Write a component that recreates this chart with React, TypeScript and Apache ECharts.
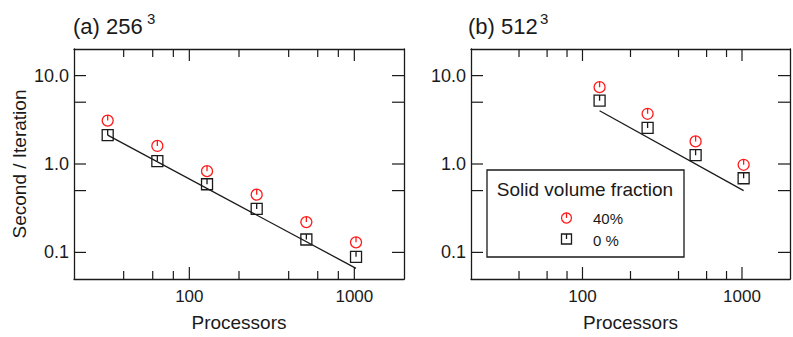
import React, { useEffect, useRef } from "react";
import * as echarts from "echarts";

// ---- data ----
const procA = [32, 64, 128, 256, 512, 1024];
const a40 = [3.1, 1.6, 0.83, 0.45, 0.22, 0.13];
const a0 = [2.12, 1.08, 0.59, 0.31, 0.14, 0.089];
const idealAx = [32, 1024];
const idealAy = [2.12, 0.066];

const procB = [128, 256, 512, 1024];
const b40 = [7.4, 3.7, 1.8, 0.98];
const b0 = [5.2, 2.56, 1.26, 0.69];
const idealBx = [128, 1024];
const idealBy = [4.0, 0.5];

const xRange = [20, 2000];
const yRange = [0.05, 20];
const xMajor = [100, 1000];
const xMinor = [40, 60, 80, 200, 400, 600, 800];
const yTicks = [0.1, 0.5, 1, 5, 10];

const seriesNames = ["40%", "0 %"];

const FONT = "Liberation Sans, Arial, Helvetica, sans-serif";
const INK = "#1a1a1a";
const RED = "#ff1a1a";

const circlePath = "path://M0,5 A5,5 0 1,1 10,5 A5,5 0 1,1 0,5 Z M5,0 L5,5";
const squarePath = "path://M0,0 L10,0 L10,10 L0,10 Z M5,0 L5,5";

const zip = (xs: number[], ys: number[]) => xs.map((x, i) => [x, ys[i]]);
const isPow10 = (v: number) => Math.abs(Math.log10(v) - Math.round(Math.log10(v))) < 1e-6;

const lineStyle = { color: INK, width: 1.3 };
const MAJOR_LEN = 12;
const MINOR_LEN = 8;

function logX(gridIndex: number, position: string, withLabels: boolean) {
  return {
    type: "log",
    logBase: 10,
    min: xRange[0],
    max: xRange[1],
    gridIndex,
    position,
    splitLine: { show: false },
    minorTick: { show: false },
    axisTick: { show: false },
    axisLine: { show: true, onZero: false, lineStyle },
    axisLabel: withLabels
      ? {
          show: true,
          formatter: (v: number) => (isPow10(v) && v > xRange[0] && v < xRange[1] ? String(Math.round(v)) : ""),
          fontFamily: FONT,
          fontSize: 17,
          color: INK,
          margin: 9,
        }
      : { show: false },
    name: withLabels ? "Processors" : "",
    nameLocation: "middle",
    nameGap: 34,
    nameTextStyle: { fontFamily: FONT, fontSize: 19, color: INK },
  };
}

function logY(gridIndex: number, position: string, withLabels: boolean, withName: boolean) {
  return {
    type: "log",
    logBase: 10,
    min: yRange[0],
    max: yRange[1],
    gridIndex,
    position,
    splitLine: { show: false },
    minorTick: { show: false },
    axisTick: { show: false },
    axisLine: { show: true, onZero: false, lineStyle },
    axisLabel: withLabels
      ? {
          show: true,
          formatter: (v: number) => (isPow10(v) && v > yRange[0] && v < yRange[1] ? v.toFixed(1) : ""),
          fontFamily: FONT,
          fontSize: 18,
          color: INK,
          margin: 5,
        }
      : { show: false },
    name: withName ? "Second / Iteration" : "",
    nameLocation: "middle",
    nameRotate: 90,
    nameGap: 45,
    nameTextStyle: { fontFamily: FONT, fontSize: 19, color: INK },
  };
}

function scatter(name: string, symbol: string, color: string, x: number, y: number, data: number[][]) {
  return {
    type: "scatter",
    name,
    xAxisIndex: x,
    yAxisIndex: y,
    data,
    symbol,
    symbolSize: 11,
    z: 3,
    itemStyle: { color: "transparent", borderColor: color, borderWidth: 1.3, opacity: 1 },
  };
}

function ideal(x: number, y: number, data: number[][]) {
  return {
    type: "line",
    xAxisIndex: x,
    yAxisIndex: y,
    data,
    symbol: "none",
    z: 2,
    lineStyle: { color: INK, width: 1.3 },
  };
}

const legendGraphics = [
  { type: "text", left: 73, top: 15, style: { text: "(a) 256", font: `22px ${FONT}`, fill: INK } },
  { type: "text", left: 147, top: 11, style: { text: "3", font: `15px ${FONT}`, fill: INK } },
  { type: "text", left: 468, top: 15, style: { text: "(b) 512", font: `22px ${FONT}`, fill: INK } },
  { type: "text", left: 540, top: 11, style: { text: "3", font: `15px ${FONT}`, fill: INK } },
  {
    type: "rect",
    shape: { x: 487, y: 170, width: 197, height: 87 },
    style: { fill: "#ffffff", stroke: INK, lineWidth: 1.3 },
    z: 10,
  },
  {
    type: "text",
    x: 585,
    y: 189,
    z: 11,
    style: { text: "Solid volume fraction", font: `19px ${FONT}`, fill: INK, align: "center", verticalAlign: "middle" },
  },
  { type: "circle", shape: { cx: 566.5, cy: 218, r: 5 }, style: { fill: "none", stroke: RED, lineWidth: 1.3 }, z: 11 },
  { type: "line", shape: { x1: 566.5, y1: 213, x2: 566.5, y2: 218 }, style: { stroke: RED, lineWidth: 1.3 }, z: 11 },
  { type: "rect", shape: { x: 561.5, y: 234, width: 10, height: 10 }, style: { fill: "none", stroke: INK, lineWidth: 1.3 }, z: 11 },
  { type: "line", shape: { x1: 566.5, y1: 234, x2: 566.5, y2: 239 }, style: { stroke: INK, lineWidth: 1.3 }, z: 11 },
  { type: "text", x: 593, y: 218, z: 11, style: { text: seriesNames[0], font: `15px ${FONT}`, fill: INK, verticalAlign: "middle" } },
  { type: "text", x: 593, y: 240, z: 11, style: { text: seriesNames[1], font: `15px ${FONT}`, fill: INK, verticalAlign: "middle" } },
];

export default function App() {
  const ref = useRef<HTMLDivElement>(null);
  useEffect(() => {
    if (!ref.current) return;
    const chart = echarts.init(ref.current, null, { renderer: "svg" });
    chart.setOption({
      animation: false,
      backgroundColor: "#ffffff",
      grid: [
        { left: 74, top: 49, width: 330, height: 232 },
        { left: 471, top: 49, width: 330, height: 232 },
      ],
      xAxis: [logX(0, "bottom", true), logX(0, "top", false), logX(1, "bottom", true), logX(1, "top", false)],
      yAxis: [logY(0, "left", true, true), logY(0, "right", false, false), logY(1, "left", true, false), logY(1, "right", false, false)],
      series: [
        ideal(0, 0, zip(idealAx, idealAy)),
        scatter(seriesNames[0], circlePath, RED, 0, 0, zip(procA, a40)),
        scatter(seriesNames[1], squarePath, INK, 0, 0, zip(procA, a0)),
        ideal(2, 2, zip(idealBx, idealBy)),
        scatter(seriesNames[0], circlePath, RED, 2, 2, zip(procB, b40)),
        scatter(seriesNames[1], squarePath, INK, 2, 2, zip(procB, b0)),
      ],
    });

    // inside frame ticks, positioned through the log axes' own scales
    const tickLines: any[] = [];
    const st = { stroke: INK, lineWidth: 1.2 };
    [0, 2].forEach((ai) => {
      const px = (x: number, y: number) =>
        chart.convertToPixel({ xAxisIndex: ai, yAxisIndex: ai } as any, [x, y]) as number[];
      const xTick = (v: number, len: number) => {
        const b = px(v, yRange[0]);
        const t = px(v, yRange[1]);
        if (!b || !t) return;
        tickLines.push({ type: "line", silent: true, z: 5, shape: { x1: b[0], y1: b[1], x2: b[0], y2: b[1] - len }, style: st });
        tickLines.push({ type: "line", silent: true, z: 5, shape: { x1: t[0], y1: t[1], x2: t[0], y2: t[1] + len }, style: st });
      };
      xMajor.forEach((v) => xTick(v, MAJOR_LEN));
      xMinor.forEach((v) => xTick(v, MINOR_LEN));
      yTicks.forEach((v) => {
        const l = px(xRange[0], v);
        const r = px(xRange[1], v);
        if (!l || !r) return;
        tickLines.push({ type: "line", silent: true, z: 5, shape: { x1: l[0], y1: l[1], x2: l[0] + MAJOR_LEN, y2: l[1] }, style: st });
        tickLines.push({ type: "line", silent: true, z: 5, shape: { x1: r[0], y1: r[1], x2: r[0] - MAJOR_LEN, y2: r[1] }, style: st });
      });
    });

    chart.setOption({ graphic: [...tickLines, ...legendGraphics] });
    return () => chart.dispose();
  }, []);
  return <div ref={ref} style={{ position: "absolute", left: 0, top: 0, width: 793, height: 337 }} />;
}
